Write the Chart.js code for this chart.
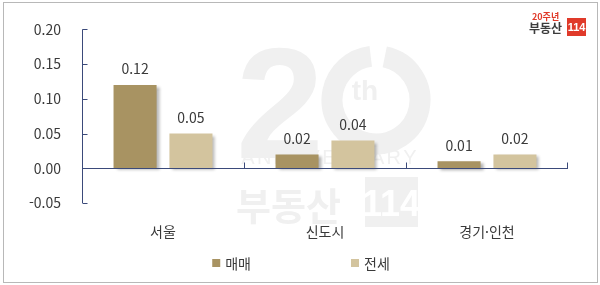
<!DOCTYPE html>
<html lang="ko">
<head>
  <meta charset="UTF-8">
  <title>아파트 가격 변동률</title>
  <script src="https://cdn.jsdelivr.net/npm/chart.js"></script>
  <style>
    html, body { margin: 0; padding: 0; background: #fff; }
    #wrap { width: 600px; height: 285px; }
  </style>
</head>
<body>
  <div id="wrap"><canvas id="chart" width="600" height="285"></canvas></div>

  <script>
    // Data
    const regions = ['서울', '신도시', '경기·인천'];
    const saleValues = [0.12, 0.02, 0.01];    // 매매
    const jeonseValues = [0.05, 0.04, 0.02];  // 전세
    const seriesNames = ['매매', '전세'];
    const yTicks = { min: -0.05, max: 0.20, step: 0.05 };

    const FONT = "'Noto Sans CJK KR', 'Noto Sans', sans-serif";
    const AXIS = '#3b4a7a';
    const TEXT = '#3a3a3a';

    // Frame + watermark behind the bars
    const backdrop = {
      id: 'backdrop',
      beforeDraw(chart) {
        const ctx = chart.ctx;
        ctx.save();
        ctx.fillStyle = '#fff';
        ctx.fillRect(0, 0, chart.width, chart.height);
        ctx.strokeStyle = '#b8b8b8';
        ctx.lineWidth = 1;
        ctx.strokeRect(3.5, 2.5, 594, 280);

        // faint "20th ANNIVERSARY 부동산114" watermark
        const wm = '#f0f0f0';
        ctx.fillStyle = wm;
        ctx.strokeStyle = wm;
        ctx.font = "bold 158px 'Liberation Sans', sans-serif";
        ctx.textBaseline = 'alphabetic';
        ctx.textAlign = 'left';
        ctx.fillText('2', 236, 158);
        ctx.lineWidth = 21;
        ctx.beginPath();
        ctx.arc(376, 100, 44, -Math.PI / 2 + 0.2, 1.5 * Math.PI - 0.12);
        ctx.stroke();
        ctx.font = "bold 28px 'Liberation Sans', sans-serif";
        ctx.textAlign = 'center';
        ctx.fillText('th', 365, 100);
        ctx.font = "20px 'Liberation Sans', sans-serif";
        const word = 'ANNIVERSARY';
        for (let i = 0; i < word.length; i++) {
          ctx.fillText(word[i], 248 + i * 16.2, 164);
        }
        ctx.font = "bold 38px " + FONT;
        ctx.textAlign = 'left';
        ctx.fillText('부동산', 236, 220);
        ctx.fillRect(365, 177, 53, 50);
        ctx.fillStyle = '#fff';
        ctx.font = "bold 36px 'Liberation Sans Narrow', 'Liberation Sans', sans-serif";
        ctx.textAlign = 'center';
        ctx.fillText('114', 391, 216);

        // logo top right
        ctx.fillStyle = '#e03a2a';
        ctx.font = "bold 9px " + FONT;
        ctx.textAlign = 'left';
        ctx.fillText('20주년', 532, 20);
        ctx.fillStyle = '#3c3c3c';
        ctx.font = "bold 12px " + FONT;
        ctx.fillText('부동산', 529, 33);
        ctx.fillStyle = '#e03a2a';
        ctx.fillRect(567, 18, 19, 18);
        ctx.fillStyle = '#fff';
        ctx.font = "bold 11px 'Liberation Sans Narrow', 'Liberation Sans', sans-serif";
        ctx.textAlign = 'center';
        ctx.fillText('114', 576.5, 31);
        ctx.restore();
      },
      beforeDatasetsDraw(chart) {
        const ctx = chart.ctx;
        ctx.save();
        ctx.shadowColor = 'rgba(0,0,0,0.3)';
        ctx.shadowOffsetX = 3;
        ctx.shadowOffsetY = 2;
        ctx.shadowBlur = 3;
      },
      afterDatasetsDraw(chart) {
        const ctx = chart.ctx;
        ctx.restore();
        const {left, right, top, bottom} = chart.chartArea;
        const y = chart.scales.y;
        const x = chart.scales.x;
        const zero = Math.round(y.getPixelForValue(0)) + 0.5;

        ctx.save();
        ctx.strokeStyle = AXIS;
        ctx.lineWidth = 1;
        ctx.beginPath();
        const ax = Math.round(left) + 0.5;
        ctx.moveTo(ax, top);
        ctx.lineTo(ax, bottom);
        y.ticks.forEach(t => {
          const py = Math.round(y.getPixelForValue(t.value)) + 0.5;
          ctx.moveTo(ax, py);
          ctx.lineTo(ax + 5, py);
        });
        ctx.moveTo(left, zero);
        ctx.lineTo(right, zero);
        for (let i = 0; i < regions.length; i++) {
          const px = Math.round((x.getPixelForValue(i) + x.getPixelForValue(i + 1)) / 2) + 0.5;
          const edge = i === regions.length - 1 ? Math.round(right) - 0.5 : px;
          ctx.moveTo(edge, zero);
          ctx.lineTo(edge, zero - 6);
        }
        ctx.stroke();

        // value labels
        ctx.fillStyle = TEXT;
        ctx.font = '14px ' + FONT;
        ctx.textAlign = 'center';
        ctx.textBaseline = 'middle';
        chart.data.datasets.forEach((ds, di) => {
          chart.getDatasetMeta(di).data.forEach((bar, i) => {
            ctx.fillText(ds.data[i].toFixed(2), bar.x, bar.y - 16);
          });
        });

        // legend
        ctx.font = '14px ' + FONT;
        ctx.textAlign = 'left';
        const gap = 100, box = 8, sp = 5;
        const widths = chart.data.datasets.map(ds => box + sp + ctx.measureText(ds.label).width);
        const total = widths.reduce((a, b) => a + b, 0) + gap * (widths.length - 1);
        let lx = 301 - total / 2;
        const ly = 263;
        chart.data.datasets.forEach((ds, di) => {
          ctx.fillStyle = ds.backgroundColor;
          ctx.fillRect(lx, ly - 4, box, box);
          ctx.fillStyle = TEXT;
          ctx.fillText(ds.label, lx + box + sp, ly + 1);
          lx += widths[di] + gap;
        });
        ctx.restore();
      }
    };

    new Chart(document.getElementById('chart'), {
      type: 'bar',
      data: {
        labels: regions,
        datasets: [
          { label: seriesNames[0], data: saleValues, backgroundColor: '#a89362' },
          { label: seriesNames[1], data: jeonseValues, backgroundColor: '#d3c49e' }
        ]
      },
      options: {
        responsive: false,
        animation: false,
        devicePixelRatio: 1,
        categoryPercentage: 0.69,
        barPercentage: 0.77,
        layout: { padding: { left: 27, right: 32, top: 27, bottom: 44 } },
        plugins: {
          legend: { display: false },
          tooltip: { enabled: false }
        },
        scales: {
          x: {
            grid: { display: false, drawTicks: false },
            border: { display: false },
            ticks: { color: TEXT, font: { family: FONT, size: 14 }, padding: 20 },
            afterFit: s => { s.height = 38; }
          },
          y: {
            min: yTicks.min,
            max: yTicks.max,
            grid: { display: false, drawTicks: false },
            border: { display: false },
            ticks: {
              stepSize: yTicks.step,
              color: TEXT,
              font: { family: FONT, size: 14 },
              padding: 21,
              callback: v => v.toFixed(2)
            },
            afterFit: s => { s.width = 55; }
          }
        }
      },
      plugins: [backdrop]
    });
  </script>
</body>
</html>
